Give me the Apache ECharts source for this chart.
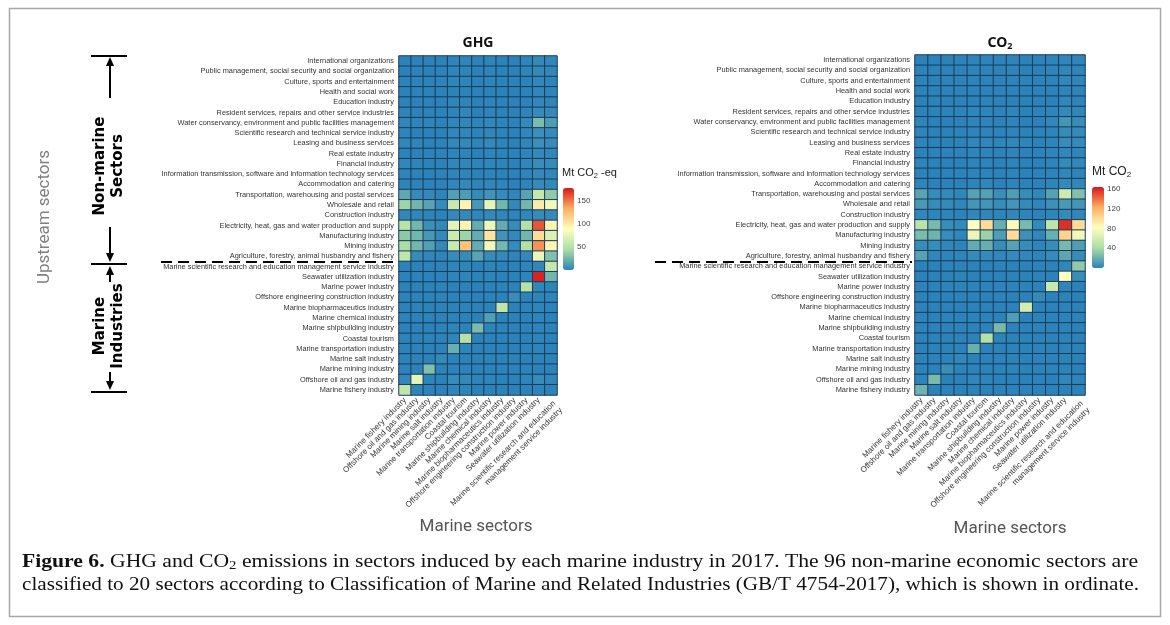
<!DOCTYPE html>
<html>
<head>
<meta charset="utf-8">
<script src="https://cdn.jsdelivr.net/npm/echarts@6/dist/echarts.min.js"></script>
<style>
html,body{margin:0;padding:0;background:#fff}
#container{width:1170px;height:625px}
</style>
</head>
<body>
<div id="container"></div>
<script>
// upstream sectors (rows, top to bottom)
var upstream = [
	'International organizations',
	'Public management, social security and social organization',
	'Culture, sports and entertainment',
	'Health and social work',
	'Education industry',
	'Resident services, repairs and other service industries',
	'Water conservancy, environment and public facilities management',
	'Scientific research and technical service industry',
	'Leasing and business services',
	'Real estate industry',
	'Financial industry',
	'Information transmission, software and information technology services',
	'Accommodation and catering',
	'Transportation, warehousing and postal services',
	'Wholesale and retail',
	'Construction industry',
	'Electricity, heat, gas and water production and supply',
	'Manufacturing industry',
	'Mining industry',
	'Agriculture, forestry, animal husbandry and fishery',
	'Marine scientific research and education management service industry',
	'Seawater utilization industry',
	'Marine power industry',
	'Offshore engineering construction industry',
	'Marine biopharmaceutics industry',
	'Marine chemical industry',
	'Marine shipbuilding industry',
	'Coastal tourism',
	'Marine transportation industry',
	'Marine salt industry',
	'Marine mining industry',
	'Offshore oil and gas industry',
	'Marine fishery industry'
];
// marine sectors (columns)
var marine = [
	'Marine fishery industry',
	'Offshore oil and gas industry',
	'Marine mining industry',
	'Marine salt industry',
	'Marine transportation industry',
	'Coastal tourism',
	'Marine shipbuilding industry',
	'Marine chemical industry',
	'Marine biopharmaceutics industry',
	'Offshore engineering construction industry',
	'Marine power industry',
	'Seawater utilization industry',
	'Marine scientific research and education\nmanagement service industry'
];
var ghgTicks = [50, 100, 150];
var co2Ticks = [40, 80, 120, 160];
var ghgMax = 178;
var co2Max = 164;

// Mt CO2-eq, one row per upstream sector
var ghg = [
	[0,0,0,0,1,1,0,1,0,0,1,3,2],
	[0,0,0,0,1,1,0,1,0,0,1,3,2],
	[0,0,0,0,1,1,0,1,0,0,0,2,1],
	[0,0,0,0,0,0,0,0,0,0,0,2,1],
	[0,0,0,0,1,1,0,1,0,0,0,2,1],
	[1,0,0,0,1,2,0,1,0,0,1,4,3],
	[2,1,1,0,2,2,1,2,1,0,3,28,12],
	[1,0,0,0,2,2,1,2,1,0,2,6,4],
	[2,1,0,0,3,3,1,3,1,0,2,6,4],
	[0,0,0,0,1,1,0,1,0,0,1,3,2],
	[2,1,0,0,2,2,1,2,1,0,2,5,4],
	[1,0,0,0,1,1,0,1,0,0,1,3,2],
	[1,0,0,0,2,3,1,2,1,0,1,4,3],
	[18,4,3,1,14,12,4,8,4,2,16,58,35],
	[40,25,16,4,60,95,10,75,25,3,25,100,82],
	[2,2,1,0,3,3,2,3,2,1,2,4,3],
	[52,25,6,3,75,95,20,80,20,4,50,160,95],
	[34,25,10,3,62,40,20,105,8,3,25,108,70],
	[45,25,14,3,60,122,20,82,26,4,50,142,95],
	[55,4,2,1,4,4,16,4,3,1,3,78,30],
	[0,0,0,0,1,1,0,1,0,0,1,2,58],
	[0,0,0,0,1,1,0,1,0,0,1,175,25],
	[0,0,0,0,0,0,0,0,0,0,50,2,1],
	[0,0,0,0,0,0,0,0,0,5,0,1,1],
	[0,0,0,0,0,0,0,0,55,0,0,1,0],
	[0,0,0,0,0,0,0,14,0,0,0,1,0],
	[0,0,0,0,1,0,28,1,0,0,0,1,0],
	[0,0,0,0,1,50,0,0,0,0,0,1,0],
	[0,0,0,0,22,1,0,0,0,0,0,1,0],
	[0,0,0,3,0,0,0,0,0,0,0,0,0],
	[0,0,30,0,0,0,0,0,0,0,0,0,0],
	[2,75,1,0,4,3,1,1,0,0,1,4,2],
	[55,1,0,0,1,1,0,0,0,0,0,1,0]
];
// Mt CO2
var co2 = [
	[0,0,0,0,1,1,0,1,0,0,1,2,1],
	[0,0,0,0,1,1,0,1,0,0,1,2,1],
	[0,0,0,0,0,0,0,0,0,0,0,2,1],
	[0,0,0,0,0,0,0,0,0,0,0,1,1],
	[0,0,0,0,0,1,0,0,0,0,0,2,1],
	[0,0,0,0,1,1,0,1,0,0,1,3,2],
	[1,0,0,0,1,1,0,1,0,0,2,8,4],
	[1,0,0,0,1,1,0,1,0,0,1,4,3],
	[1,0,0,0,2,2,1,2,1,0,1,4,3],
	[0,0,0,0,1,1,0,1,0,0,1,2,1],
	[1,0,0,0,1,1,0,1,0,0,1,3,2],
	[0,0,0,0,1,1,0,1,0,0,1,2,1],
	[1,0,0,0,1,2,0,1,0,0,1,3,2],
	[15,4,3,2,14,14,5,12,4,2,14,58,28],
	[10,4,3,2,8,8,4,8,3,2,6,10,8],
	[2,1,1,0,2,2,1,2,1,0,1,3,2],
	[48,25,4,3,82,100,20,85,25,3,50,158,100],
	[26,22,4,2,72,36,12,100,6,2,20,105,75],
	[4,4,2,1,18,20,4,14,4,1,4,24,12],
	[14,2,1,1,3,3,2,3,2,1,3,16,4],
	[0,0,0,0,0,0,0,0,0,0,0,2,32],
	[0,0,0,0,0,0,0,0,0,0,0,82,4],
	[0,0,0,0,0,0,0,0,0,0,55,1,0],
	[0,0,0,0,0,0,0,0,0,3,0,0,0],
	[0,0,0,0,0,0,0,0,60,0,0,0,0],
	[0,0,0,0,0,0,0,12,0,0,0,0,0],
	[0,0,0,0,0,0,25,0,0,0,0,0,0],
	[0,0,0,0,0,45,0,0,0,0,0,0,0],
	[0,0,0,0,20,0,0,0,0,0,0,0,0],
	[0,0,0,2,0,0,0,0,0,0,0,0,0],
	[0,0,5,0,0,0,0,0,0,0,0,0,0],
	[1,25,0,0,2,1,0,0,0,0,0,2,1],
	[22,0,0,0,0,0,0,0,0,0,0,0,0]
];

var palette = ['#2b83ba', '#abdda4', '#ffffbf', '#fdae61', '#d7191c'];
var sans = '"Liberation Sans", Arial, sans-serif';
var serifFam = '"Liberation Serif", "Times New Roman", serif';

function textWidth(font, s) {
	var ctx = document.createElement('canvas').getContext('2d');
	ctx.font = font;
	return ctx.measureText(s).width;
}

function cells(m) {
	var d = [];
	m.forEach(function(row, r) {
		row.forEach(function(v, c) {
			d.push([c, r, v]);
		});
	});
	return d;
}

// stretch caption lines to the width they have in the figure
var capSize = 19;
var cap1a = ' GHG and CO';
var cap1b = ' emissions in sectors induced by each marine industry in 2017. The 96 non-marine economic sectors are';
var cap2 = 'classified to 20 sectors according to Classification of Marine and Related Industries (GB/T 4754-2017), which is shown in ordinate.';
var w1 = textWidth('bold ' + capSize + 'px ' + serifFam, 'Figure 6.') + textWidth(capSize + 'px ' + serifFam, cap1a + cap1b) + textWidth('13px ' + serifFam, '2');
var w2 = textWidth(capSize + 'px ' + serifFam, cap2);

// two-line label starts at its tick, like the other ones
var marineAxis = marine.map(function(name) {
	return name.indexOf('\n') >= 0 ? {value: name, textStyle: {verticalAlign: 'top', padding: [0, 0, 0, 0]}} : name;
});

function heatX(i) {
	return {
		type: 'category', gridIndex: i, data: marineAxis,
		axisLine: {show: false}, axisTick: {show: false}, splitLine: {show: false},
		axisLabel: {rotate: 45, interval: 0, fontSize: 8.1, lineHeight: 9.5, color: '#333', margin: 4, fontFamily: sans}
	};
}
function heatY(i) {
	return {
		type: 'category', gridIndex: i, data: upstream, inverse: true,
		axisLine: {show: false}, axisTick: {show: false}, splitLine: {show: false},
		axisLabel: {interval: 0, fontSize: 7.4, color: '#333', margin: 5, fontFamily: sans}
	};
}
function barY(i, max, ticks) {
	return {
		type: 'value', gridIndex: i, min: 0, max: max, interval: ticks[1] - ticks[0], position: 'right',
		axisLine: {show: false}, axisTick: {show: false}, splitLine: {show: false},
		axisLabel: {fontSize: 8, color: '#444', margin: 3, fontFamily: sans,
			formatter: function(v) { return ticks.indexOf(v) >= 0 ? String(v) : ''; }}
	};
}
function seg(x1, y1, x2, y2, dash) {
	return {type: 'line', shape: {x1: x1, y1: y1, x2: x2, y2: y2},
		style: {stroke: '#000', lineWidth: 2, lineDash: dash || null}, silent: true};
}
function head(x, tip, dir) {
	return {type: 'polygon', shape: {points: [[x, tip], [x - 4, tip + dir * 9], [x + 4, tip + dir * 9]]},
		style: {fill: '#000'}, silent: true};
}

var dom = document.getElementById('container');
var myChart = echarts.init(dom, null, {renderer: 'canvas'});
var option = {
	backgroundColor: '#fff',
	animation: false,
	grid: [
		{left: 399, top: 56, width: 158, height: 339, outerBoundsMode: 'none'},
		{left: 915, top: 55, width: 170, height: 340, outerBoundsMode: 'none'},
		{left: 563, top: 188, width: 11, height: 82, outerBoundsMode: 'none'},
		{left: 1092, top: 187, width: 12, height: 81, outerBoundsMode: 'none'}
	],
	xAxis: [
		heatX(0), heatX(1),
		{type: 'value', gridIndex: 2, show: false, min: 0, max: 1},
		{type: 'value', gridIndex: 3, show: false, min: 0, max: 1}
	],
	yAxis: [
		heatY(0), heatY(1),
		barY(2, ghgMax, ghgTicks),
		barY(3, co2Max, co2Ticks)
	],
	visualMap: [
		{type: 'continuous', seriesIndex: 0, min: 0, max: ghgMax, left: 563, top: 188,
			itemWidth: 11, itemHeight: 82, padding: 0, calculable: false, hoverLink: false,
			inRange: {color: palette}},
		{type: 'continuous', seriesIndex: 1, min: 0, max: co2Max, left: 1092, top: 187,
			itemWidth: 12, itemHeight: 81, padding: 0, calculable: false, hoverLink: false,
			inRange: {color: palette}}
	],
	series: [
		{type: 'heatmap', xAxisIndex: 0, yAxisIndex: 0, data: cells(ghg),
			itemStyle: {borderColor: '#1d3b58', borderWidth: 1}, emphasis: {disabled: true}},
		{type: 'heatmap', xAxisIndex: 1, yAxisIndex: 1, data: cells(co2),
			itemStyle: {borderColor: '#1d3b58', borderWidth: 1}, emphasis: {disabled: true}}
	],
	graphic: [
		// figure frame
		{type: 'rect', shape: {x: 9.5, y: 8.5, width: 1151, height: 608},
			style: {fill: 'none', stroke: '#a8a8a8', lineWidth: 1.5}, silent: true},
		// chart titles
		{type: 'text', x: 478, y: 43, style: {text: 'GHG', font: 'bold 14px "Noto Sans"', fill: '#111', align: 'center', verticalAlign: 'middle'}},
		{type: 'text', x: 1000, y: 43, style: {text: '{a|CO}{b|2}', fill: '#111', align: 'center', verticalAlign: 'middle',
			rich: {a: {font: 'bold 14px "Noto Sans"', fill: '#111'}, b: {font: 'bold 9px "Noto Sans"', fill: '#111', padding: [6, 0, 0, 0]}}}},
		// colour bar titles
		{type: 'text', x: 562, y: 173, style: {text: '{a|Mt CO}{b|2}{a| -eq}', align: 'left', verticalAlign: 'middle',
			rich: {a: {fontSize: 11, fontFamily: sans, fill: '#222'}, b: {fontSize: 7.5, fontFamily: sans, fill: '#222', padding: [5, 0, 0, 0]}}}},
		{type: 'text', x: 1092, y: 172, style: {text: '{a|Mt CO}{b|2}', align: 'left', verticalAlign: 'middle',
			rich: {a: {fontSize: 12, fontFamily: sans, fill: '#222'}, b: {fontSize: 8, fontFamily: sans, fill: '#222', padding: [5, 0, 0, 0]}}}},
		// axis names
		{type: 'text', x: 476, y: 527, style: {text: 'Marine sectors', font: '17px Roboto', fill: '#555', align: 'center', verticalAlign: 'middle'}},
		{type: 'text', x: 1010, y: 529, style: {text: 'Marine sectors', font: '17px Roboto', fill: '#555', align: 'center', verticalAlign: 'middle'}},
		{type: 'text', x: 45, y: 217, rotation: Math.PI / 2, style: {text: 'Upstream sectors', font: '17px Roboto', fill: '#808080', align: 'center', verticalAlign: 'middle'}},
		// group brackets
		{type: 'text', x: 109, y: 166, rotation: Math.PI / 2, style: {text: 'Non-marine\nSectors', font: 'bold 15px "DejaVu Sans"', lineHeight: 18, fill: '#000', align: 'center', verticalAlign: 'middle'}},
		{type: 'text', x: 109, y: 326, rotation: Math.PI / 2, style: {text: 'Marine\nIndustries', font: 'bold 15px "DejaVu Sans"', lineHeight: 18, fill: '#000', align: 'center', verticalAlign: 'middle'}},
		seg(91, 56, 127, 56), seg(91, 264, 127, 264), seg(91, 392, 127, 392),
		head(110, 57, 1), seg(110, 64, 110, 98),
		seg(110, 227, 110, 255), head(110, 262, -1),
		head(110, 266, 1), seg(110, 273, 110, 282),
		seg(110, 372, 110, 383), head(110, 390, -1),
		// split between non-marine and marine rows
		seg(161, 262, 395, 262, [11, 6]),
		seg(655, 262, 912, 262, [11, 6]),
		// caption
		{type: 'text', x: 22, y: 562, scaleX: 1116 / w1, style: {
			text: '{b|Figure 6.}{r|' + cap1a + '}{s|2}{r|' + cap1b + '}', fill: '#111',
			align: 'left', verticalAlign: 'middle',
			rich: {
				b: {fontFamily: serifFam, fontSize: capSize, fontWeight: 'bold', fill: '#111'},
				r: {fontFamily: serifFam, fontSize: capSize, fill: '#111'},
				s: {fontFamily: serifFam, fontSize: 13, fill: '#111', padding: [7, 0, 0, 0]}
			}}},
		{type: 'text', x: 22, y: 585, scaleX: 1117 / w2, style: {
			text: cap2, fontFamily: serifFam, fontSize: capSize, fill: '#111', align: 'left', verticalAlign: 'middle'}}
	]
};
myChart.setOption(option, true);
</script>
</body>
</html>
